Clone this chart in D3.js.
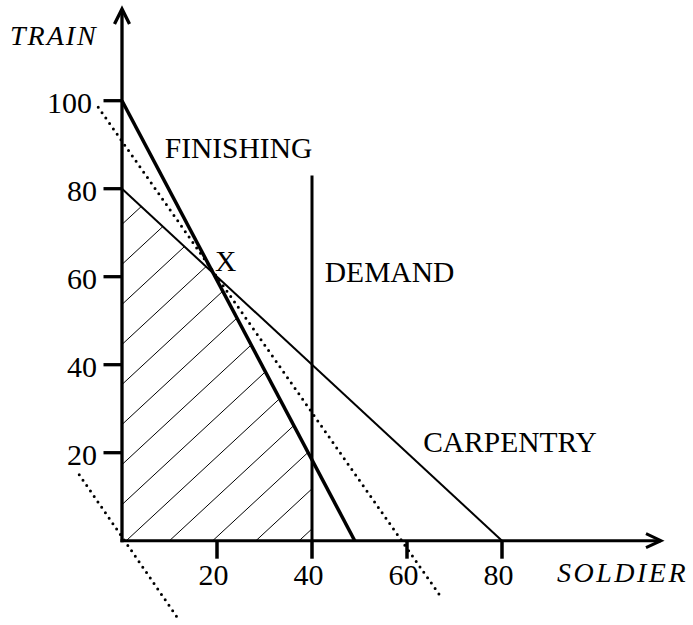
<!DOCTYPE html>
<html>
<head>
<meta charset="utf-8">
<script src="https://cdn.jsdelivr.net/npm/d3@7"></script>
<style>
    body { margin: 0; background: #fff; }
    svg { display: block; }
    text { font-family: "Liberation Serif", "Times New Roman", serif; fill: #000; }
</style>
</head>
<body>
<script>
/**
 * Data.
 */
const xTicks = [20, 40, 60, 80],
    yTicks = [20, 40, 60, 80, 100];

// Constraint lines, as [soldier, train] end points
const finishing = [[0, 100], [49, 0]],
    carpentry = [[0, 80], [80, 0]],
    demand = [[40, 0], [40, 83]];

// Dotted iso-profit lines
const isoHigh = [[-5, 98.5], [67.5, -13.3]],
    isoZero = [[-9, 15], [12, -18]];

const labels = [
    { text: 'FINISHING', at: [9, 86.9] },
    { text: 'X', at: [19.6, 61.3] },
    { text: 'DEMAND', at: [42.7, 58.7] },
    { text: 'CARPENTRY', at: [63.4, 20.1] }
];

/**
 * Visual configs.
 */
const width = 693, height = 625;
const origin = { x: 122, y: 540.7 };

const xScale = d3.scaleLinear().domain([0, 80]).range([origin.x, origin.x + 380]),
    yScale = d3.scaleLinear().domain([0, 100]).range([origin.y, 100.7]);

const svg = d3.select('body').append('svg')
    .attr('width', width)
    .attr('height', height);

svg.append('rect').attr('width', width).attr('height', height).attr('fill', '#fff');

const line = d3.line().x(d => xScale(d[0])).y(d => yScale(d[1]));

// Intersection of two segments' lines
function intersect(a, b) {
    const [[x1, y1], [x2, y2]] = a, [[x3, y3], [x4, y4]] = b;
    const den = (x1 - x2) * (y3 - y4) - (y1 - y2) * (x3 - x4);
    const t = ((x1 - x3) * (y3 - y4) - (y1 - y3) * (x3 - x4)) / den;
    return [x1 + t * (x2 - x1), y1 + t * (y2 - y1)];
}

/**
 * Feasible region, hatched.
 */
const corner = intersect(finishing, carpentry),
    demandFinish = intersect(finishing, [[40, 0], [40, 100]]);
const feasible = [[0, 0], [0, 80], corner, demandFinish, [40, 0]];

svg.append('clipPath').attr('id', 'feasible')
    .append('path')
    .attr('d', line(feasible) + 'Z');

const hatchOffsets = d3.range(-0.9 - 9.1 * 6, 90, 9.1);
svg.append('g')
    .attr('clip-path', 'url(#feasible)')
    .selectAll('line').data(hatchOffsets)
    .join('line')
    .attr('x1', b => xScale(-10))
    .attr('y1', b => yScale(-10 + b))
    .attr('x2', b => xScale(100))
    .attr('y2', b => yScale(100 + b))
    .attr('stroke', '#000')
    .attr('stroke-width', 1);

/**
 * Lines.
 */
svg.append('path').attr('d', line(carpentry))
    .attr('fill', 'none').attr('stroke', '#000').attr('stroke-width', 2);
svg.append('path').attr('d', line(demand))
    .attr('fill', 'none').attr('stroke', '#000').attr('stroke-width', 3);
svg.append('path').attr('d', line(finishing))
    .attr('fill', 'none').attr('stroke', '#000').attr('stroke-width', 3.5);

[isoHigh, isoZero].forEach(seg => {
    svg.append('path').attr('d', line(seg))
        .attr('fill', 'none')
        .attr('stroke', '#000')
        .attr('stroke-width', 3)
        .attr('stroke-linecap', 'round')
        .attr('stroke-dasharray', '0 6.6');
});

/**
 * Axes with open arrow heads.
 */
const axes = svg.append('g')
    .attr('fill', 'none')
    .attr('stroke', '#000')
    .attr('stroke-linecap', 'butt');

axes.append('line')
    .attr('x1', origin.x).attr('y1', origin.y + 1.5)
    .attr('x2', origin.x).attr('y2', 9)
    .attr('stroke-width', 3.3);
axes.append('path')
    .attr('d', `M${origin.x - 7.5},24 L${origin.x},9 L${origin.x + 7.5},24`)
    .attr('stroke-width', 3.3);

axes.append('line')
    .attr('x1', origin.x - 1.5).attr('y1', origin.y)
    .attr('x2', 661).attr('y2', origin.y)
    .attr('stroke-width', 3);
axes.append('path')
    .attr('d', `M646,${origin.y - 7} L661,${origin.y} L646,${origin.y + 7}`)
    .attr('stroke-width', 3);

// Ticks
axes.selectAll('.xtick').data(xTicks)
    .join('line').attr('class', 'xtick')
    .attr('x1', d => xScale(d)).attr('x2', d => xScale(d))
    .attr('y1', origin.y).attr('y2', origin.y + 18)
    .attr('stroke-width', 3.5);

axes.selectAll('.ytick').data(yTicks)
    .join('line').attr('class', 'ytick')
    .attr('x1', origin.x - 18.5).attr('x2', origin.x)
    .attr('y1', d => yScale(d)).attr('y2', d => yScale(d))
    .attr('stroke-width', 3.3);

svg.selectAll('.xlabel').data(xTicks)
    .join('text').attr('class', 'xlabel')
    .attr('x', d => xScale(d) - 3.5)
    .attr('y', origin.y + 44)
    .attr('text-anchor', 'middle')
    .style('font-size', '30px')
    .text(d => d);

svg.selectAll('.ylabel').data(yTicks)
    .join('text').attr('class', 'ylabel')
    .attr('x', d => d === 100 ? 92 : 97)
    .attr('y', d => yScale(d) + 12)
    .attr('text-anchor', 'end')
    .style('font-size', '30px')
    .text(d => d);

// Axis titles
svg.append('text')
    .attr('x', 10).attr('y', 45)
    .style('font-size', '28px').style('font-style', 'italic')
    .style('letter-spacing', '2px')
    .text('TRAIN');

svg.append('text')
    .attr('x', 557).attr('y', 582)
    .style('font-size', '28px').style('font-style', 'italic')
    .style('letter-spacing', '2.5px')
    .text('SOLDIER');

// Line labels
svg.selectAll('.label').data(labels)
    .join('text').attr('class', 'label')
    .attr('x', d => xScale(d.at[0]))
    .attr('y', d => yScale(d.at[1]))
    .style('font-size', '29.5px')
    .text(d => d.text);
</script>
</body>
</html>
